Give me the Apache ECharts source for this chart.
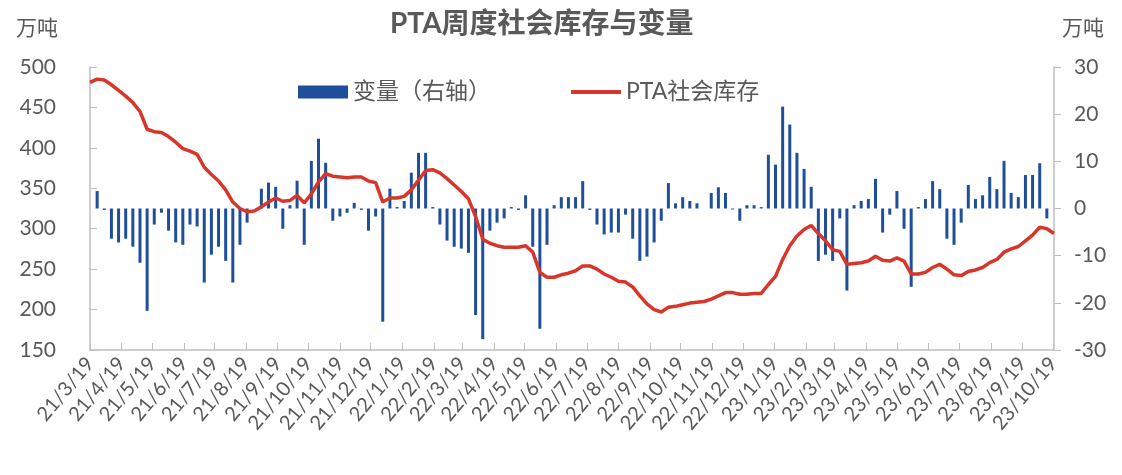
<!DOCTYPE html>
<html>
<head>
<meta charset="utf-8">
<title>PTA周度社会库存与变量</title>
<script src="https://cdn.jsdelivr.net/npm/echarts@6/dist/echarts.min.js"></script>
<style>
  html, body { margin: 0; padding: 0; background: #fff; }
  #chart { width: 1122px; height: 475px; }
</style>
</head>
<body>
<div id="chart"></div>
<script>
// weekly data, first week 2021-03-19 (Fri); x axis counted in days from it
const firstWeek = [2021, 3, 19]
const axisEnd = [2023, 10, 20]

const tickLabels = [
  '21/3/19', '21/4/19', '21/5/19', '21/6/19', '21/7/19', '21/8/19', '21/9/19', '21/10/19',
  '21/11/19', '21/12/19', '22/1/19', '22/2/19', '22/3/19', '22/4/19', '22/5/19', '22/6/19',
  '22/7/19', '22/8/19', '22/9/19', '22/10/19', '22/11/19', '22/12/19', '23/1/19', '23/2/19',
  '23/3/19', '23/4/19', '23/5/19', '23/6/19', '23/7/19', '23/8/19', '23/9/19', '23/10/19'
]

// PTA社会库存 (万吨, left axis)
const stockValues = [
  481, 485, 484, 478, 471, 464, 456, 445, 423, 420, 419, 414, 407, 399, 396, 392,
  376, 367, 359, 348, 333, 325, 321, 322, 327, 333, 338, 334, 335, 341, 332, 343,
  358, 368, 365, 364, 363, 364, 364, 359, 357, 333, 338, 338, 340, 348, 360, 372,
  373, 369, 362, 354, 346, 337, 315, 287, 282, 279, 277, 277, 277, 279, 271, 246,
  240, 240, 243, 245, 248, 254, 254, 250, 244, 240, 235, 234, 228, 217, 207, 200,
  197, 203, 204, 206, 208, 209, 210, 213, 217, 221, 221, 219, 219, 220, 220, 231,
  241, 262, 279, 291, 299, 304, 294, 285, 274, 272, 256, 257, 258, 260, 266, 261,
  260, 264, 260, 244, 244, 246, 252, 256, 250, 243, 242, 247, 249, 252, 258, 262,
  271, 275, 278, 285, 292, 302, 300, 294
]

// 变量 (万吨, right axis)
const changeValues = [
  null, 3.7, -0.3, -6.4, -7.2, -6.4, -8.1, -11.5, -21.7, -3.4, -0.9, -4.7, -7.2, -7.7, -3.4, -3.8,
  -15.7, -9.8, -8.1, -11.1, -15.7, -7.7, -3.0, 0, 4.2, 5.5, 4.6, -4.3, 0.7, 5.9, -7.7, 10.1,
  14.8, 9.7, -2.6, -1.7, -0.9, 1.2, -0.3, -4.7, -1.7, -24, 4.2, 0.3, 1.6, 7.6, 11.8, 11.8,
  0.3, -3.4, -6.8, -8.1, -8.5, -9.4, -22.6, -27.7, -4.7, -3.0, -2.1, 0.3, -0.3, 2.8, -8.1, -25.5,
  -7.7, 0.7, 2.4, 2.4, 2.4, 5.8, -0.3, -3.4, -5.5, -5.1, -5.1, -1.3, -6.4, -11.1, -10.2, -7.2,
  -2.6, 5.4, 1.1, 2.4, 1.6, 1.1, 0, 3.3, 4.5, 3.3, -0.2, -2.6, 0.7, 0.7, 0.3, 11.4,
  9.3, 21.6, 17.8, 11.8, 8.4, 4.6, -11.1, -9.8, -11.1, -2.1, -17.4, 0.7, 1.6, 2.0, 6.3, -5.1,
  -1.3, 3.7, -4.3, -16.6, 0.3, 2.0, 5.8, 4.1, -6.4, -7.7, -3.0, 5.0, 2.0, 2.8, 6.7, 4.1,
  10.1, 3.3, 2.4, 7.1, 7.1, 9.6, -2.1, null
]

const textColor = '#595959'
const axisColor = '#bfbfbf'
const fontFamily = "Lato, 'Noto Sans CJK SC', sans-serif"

const DAY = 86400000
const t0 = Date.UTC(firstWeek[0], firstWeek[1] - 1, firstWeek[2])
const dayOf = (y, m, d) => Math.round((Date.UTC(y, m - 1, d) - t0) / DAY)

const weekDays = stockValues.map((_, i) => i * 7)
const tickDays = tickLabels.map(s => {
  const p = s.split('/').map(Number)
  return dayOf(2000 + p[0], p[1], p[2])
})

const chart = echarts.init(document.getElementById('chart'))

const option = {
  animation: false,
  backgroundColor: '#fff',
  textStyle: { fontFamily },
  title: {
    text: 'PTA周度社会库存与变量',
    left: 385,
    top: 5,
    textStyle: { color: textColor, fontSize: 28, fontWeight: 'bold', fontFamily }
  },
  legend: {
    left: 293,
    top: 74,
    itemWidth: 50,
    itemHeight: 13,
    itemGap: 78,
    textStyle: { color: textColor, fontSize: 23, fontFamily, lineHeight: 26 },
    data: [
      { name: '变量（右轴）', icon: 'rect' },
      { name: 'PTA社会库存', itemStyle: { opacity: 0 }, lineStyle: { width: 4 } }
    ]
  },
  grid: { left: 90, right: 68, top: 67, bottom: 125, containLabel: false },
  xAxis: {
    type: 'value',
    min: 0,
    max: dayOf(axisEnd[0], axisEnd[1], axisEnd[2]),
    axisLine: { show: true, onZero: false, lineStyle: { color: axisColor, width: 1.5 } },
    axisTick: { show: true, inside: true, length: 7, customValues: tickDays, lineStyle: { color: axisColor } },
    axisLabel: {
      customValues: tickDays,
      rotate: 50,
      margin: 10,
      color: textColor,
      fontSize: 20,
      fontFamily,
      formatter: v => tickLabels[tickDays.indexOf(Math.round(v))] || ''
    },
    splitLine: { show: false }
  },
  yAxis: [
    {
      type: 'value',
      min: 150,
      max: 500,
      interval: 50,
      name: '万吨',
      nameGap: 28,
      nameTextStyle: { color: textColor, fontSize: 21, fontFamily, align: 'right', padding: [0, 32, 0, 0] },
      axisLine: { show: true, lineStyle: { color: axisColor, width: 1.5 } },
      axisTick: { show: true, inside: true, length: 7, lineStyle: { color: axisColor } },
      axisLabel: { color: textColor, fontSize: 21, fontFamily, margin: 34 },
      splitLine: { show: false }
    },
    {
      type: 'value',
      min: -30,
      max: 30,
      interval: 10,
      name: '万吨',
      nameGap: 28,
      nameTextStyle: { color: textColor, fontSize: 21, fontFamily, align: 'left', padding: [0, 0, 0, 8] },
      axisLine: { show: true, lineStyle: { color: axisColor, width: 1.5 } },
      axisTick: { show: true, inside: false, length: 7, lineStyle: { color: axisColor } },
      axisLabel: { color: textColor, fontSize: 21, fontFamily, margin: 20 },
      splitLine: { show: false }
    }
  ],
  series: [
    {
      name: '变量（右轴）',
      type: 'bar',
      yAxisIndex: 1,
      barWidth: 3,
      itemStyle: { color: '#1F4E9A' },
      data: weekDays.map((d, i) => [d, changeValues[i]])
    },
    {
      name: 'PTA社会库存',
      type: 'line',
      yAxisIndex: 0,
      symbol: 'none',
      lineStyle: { color: '#D7362A', width: 3.5 },
      itemStyle: { color: '#D7362A' },
      z: 3,
      data: weekDays.map((d, i) => [d, stockValues[i]])
    }
  ]
}

option && chart.setOption(option)
</script>
</body>
</html>
